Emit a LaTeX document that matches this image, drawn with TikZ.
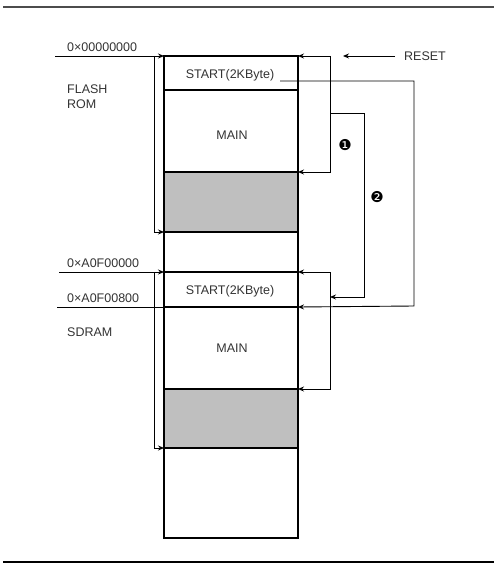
\documentclass[tikz,border=0pt]{standalone}
\usepackage{fontspec}
\setmainfont{Liberation Sans}
\newfontfamily\dejavu{DejaVu Sans}
\usetikzlibrary{arrows.meta}
\begin{document}
\begin{tikzpicture}[x=1pt,y=-1pt,
  cell/.style={draw, line width=1.3pt, minimum width=134pt, inner sep=0pt, outer sep=0pt, anchor=north west},
  graycell/.style={cell, fill=black!25},
  lbl/.style={text=black!80, font=\fontsize{12.5}{14.5}\selectfont, inner sep=0pt},
  num/.style={font=\dejavu\fontsize{15}{17}\selectfont, inner sep=0pt},
  wire/.style={line width=0.9pt},
  arr/.style={wire, -{Stealth[length=6pt,width=5pt]}},
  rule/.style={line width=1.3pt}]
\useasboundingbox (0,0) rectangle (500,575);
% rules
\coordinate (rt1) at (3,7); \coordinate (rt2) at (494,7);
\coordinate (rb1) at (3,562); \coordinate (rb2) at (494,562);
\draw[rule, black!70] (rt1) -- (rt2);
\draw[rule] (rb1) -- (rb2);
% memory column
\node[cell, minimum height=34pt] (fstart) at (164,56) {};
\node[cell, minimum height=82pt] (fmain) at (164,90) {};
\node[graycell, minimum height=60pt] (fgray) at (164,172) {};
\node[cell, minimum height=40pt] (gap) at (164,232) {};
\node[cell, minimum height=35pt] (sstart) at (164,272) {};
\node[cell, minimum height=82pt] (smain) at (164,307) {};
\node[graycell, minimum height=59pt] (sgray) at (164,389) {};
\node[cell, minimum height=90pt] (srest) at (164,448) {};
% texts in cells
\node[lbl] (t1) at (230,75) {START(2KByte)};
\node[lbl] (t2) at (232,135) {MAIN};
\node[lbl] (t3) at (230,291) {START(2KByte)};
\node[lbl] (t4) at (232,348) {MAIN};
% left labels
\node[lbl, anchor=west] (a0) at (67,47.5) {0×00000000};
\node[lbl, anchor=north west, align=left] (fr) at (67,85) {FLASH\\ROM};
\node[lbl, anchor=west] (a1) at (67,263.5) {0×A0F00000};
\node[lbl, anchor=west] (a2) at (67,298) {0×A0F00800};
\node[lbl, anchor=west] (sd) at (67,332) {SDRAM};
% left connectors
\coordinate (l0) at (55,56);
\coordinate (v0) at (154,56);
\draw[arr] (l0) -- (fstart.north west);
\draw[arr] (v0) |- (fgray.south west);
\coordinate (l1) at (59,272);
\coordinate (v1) at (154,272);
\draw[arr] (l1) -- (sstart.north west);
\draw[arr] (v1) |- (sgray.south west);
\coordinate (l2) at (57,307);
\draw[wire] (l2) -- (sstart.south west);
% RESET
\node[lbl, anchor=west] (reset) at (404,56.5) {RESET};
\coordinate (rs) at (395,56);
\coordinate (re) at (343,56);
\draw[arr] (rs) -- (re);
% right loop flash
\coordinate (c1) at (330,56);
\draw[arr] (c1) -- (fstart.north east);
\draw[arr] (c1) |- (fgray.north east);
% right loop sdram
\coordinate (c2) at (330,272);
\draw[arr] (c2) -- (sstart.north east);
\draw[arr] (c2) |- (sgray.north east);
% bracket 1
\coordinate (b1s) at (330,113);
\coordinate (b1e) at (330,297);
\draw[arr] (b1s) -| (364,297) -- (b1e);
\node[num] (n1) at (345,145) {❶};
% bracket 2
\coordinate (b2s) at (280,81);
\draw[arr] (b2s) -| (414,306) -- (sstart.south east);
\node[num] (n2) at (377,197) {❷};
\end{tikzpicture}
\end{document}
